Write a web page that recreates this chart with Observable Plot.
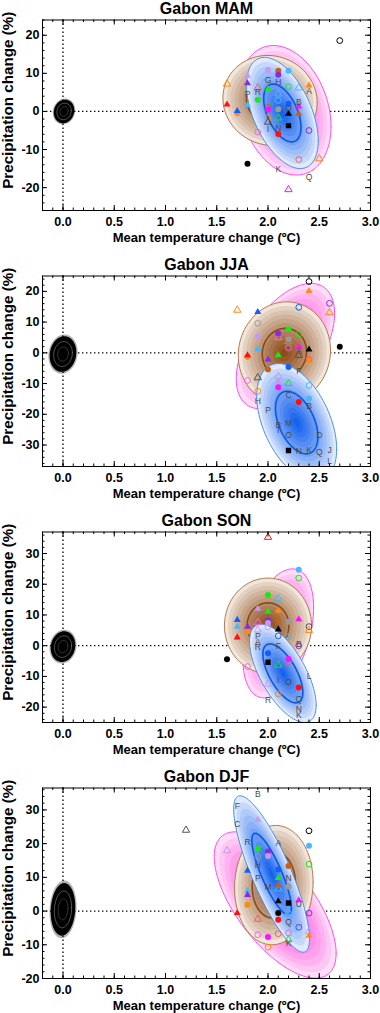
<!DOCTYPE html>
<html><head><meta charset="utf-8">
<script src="https://cdn.jsdelivr.net/npm/d3@7"></script>
<script src="https://cdn.jsdelivr.net/npm/@observablehq/plot@0.6"></script>
<style>body{margin:0;background:#fff}#c{width:380px}#c svg{display:block}</style>
</head><body><div id="c"></div>
<script>
// ---------- axes ----------
const xTicks = [0, 0.5, 1.0, 1.5, 2.0, 2.5, 3.0];
const xDomain = [-0.2, 3.0];
const titles = ["Gabon MAM", "Gabon JJA", "Gabon SON", "Gabon DJF"];
const yDomainMAM = [-26, 24], yTicksMAM = [-20, -10, 0, 10, 20];
const yDomainJJA = [-37, 25], yTicksJJA = [-30, -20, -10, 0, 10, 20];
const yDomainSON = [-25, 37], yTicksSON = [-20, -10, 0, 10, 20, 30];
const yDomainDJF = [-20, 36.5], yTicksDJF = [-20, -10, 0, 10, 20, 30];

// ---------- ellipses: [cx, cy, sx, sy, rho, innerLevel] ----------
const pinkMAM = [2.165, 0.3, 0.45, 17.0, -0.25, 0];
const brownMAM = [2.02, 2.9, 0.46, 11.8, -0.05, 0.5];
const blueMAM = [2.14, -0.4, 0.35, 14.6, -0.5, 0.52];
const pinkJJA = [2.17, 2.2, 0.48, 20.4, 0.52, 0];
const brownJJA = [2.16, 0.0, 0.45, 16.6, 0.05, 0.48];
const blueJJA = [2.28, -22.7, 0.39, 19.2, -0.45, 0.53];
const pinkSON = [2.1, 4.0, 0.345, 21.0, 0.4, 0];
const brownSON = [2.0, 6.5, 0.425, 15.5, 0.0, 0.48];
const blueSON = [2.145, -9.0, 0.325, 16.0, -0.65, 0.6];
const pinkDJF = [2.07, 1.8, 0.595, 21.7, -0.66, 0];
const brownDJF = [2.057, 7.7, 0.383, 17.7, 0.05, 0.55];
const blueDJF = [2.035, 11.0, 0.37, 23.2, -0.83, 0.52];
// natural variability cloud: [cx, cy, sx, sy]
const cloudMAM = [0.01, 0.0, 0.1, 3.1];
const cloudJJA = [0.0, -0.4, 0.13, 5.8];
const cloudSON = [0.0, -0.3, 0.12, 5.0];
const cloudDJF = [0.0, 0.5, 0.12, 7.8];

// ---------- model markers: [dT, dP, marker-code] ----------
const markersMAM = [
 [2.7,18.6,"oc-black"],[1.6,7.2,"ot-orange"],[1.6,1.8,"ft-red"],[1.7,-0.4,"fc-orange"],[1.7,0.1,"ft-blue"],
 [1.8,9.4,"ft-lav"],[1.8,7.4,"ft-purple"],[1.8,1.6,"ft-lblue"],[1.9,-5.4,"oc-pink"],[1.9,6.2,"ot-salmon"],
 [1.9,3.1,"fc-green"],[2.0,5.9,"ft-green"],[2.0,10.9,"fc-lav"],[2.0,1.1,"oc-brown"],[2.0,0.5,"fc-mag"],
 [2.0,-1.6,"oc-orange"],[2.0,-2.8,"ot-dgrey"],[2.1,10.7,"fc-brown"],[2.1,9.6,"fc-purple"],[2.1,4.6,"ot-lblue"],
 [2.1,2.9,"oc-lblue"],[2.1,0.6,"fc-grey"],[2.1,-1.7,"ot-green"],[2.1,-5.9,"fc-red"],[2.2,10.7,"fc-lblue"],
 [2.2,6.5,"oc-green"],[2.2,2.0,"fc-blue"],[2.2,-0.6,"ft-black"],[2.2,-3.7,"fs-black"],[2.3,6.2,"ot-lblue"],
 [2.3,1.3,"ft-mag"],[2.3,-0.6,"ft-brown"],[2.3,-12.6,"oc-salmon"],[2.4,6.8,"ft-orange"],[2.4,-5.0,"oc-purple"],
 [2.5,-12.4,"ot-orange"],[1.8,-13.7,"fc-black"],[2.2,-20.5,"ot-mag"]
];
const markersJJA = [
 [2.4,23.2,"oc-black"],[2.4,20.1,"ft-orange"],[2.6,16.1,"oc-purple"],[2.6,13.1,"ot-orange"],[2.3,14.8,"oc-blue"],
 [1.7,13.9,"ot-orange"],[1.9,13.3,"ft-blue"],[1.9,9.6,"oc-grey"],[1.9,5.4,"fc-lav"],[1.9,1.2,"ft-lblue"],
 [1.8,-1.3,"fc-orange"],[1.8,-0.8,"ft-red"],[2.0,-2.2,"ft-purple"],[2.0,-5.4,"fc-brown"],[2.1,6.3,"fc-purple"],
 [2.1,5.0,"ot-pink"],[2.1,-0.8,"ft-green"],[2.2,7.7,"fc-green"],[2.2,5.5,"ot-salmon"],[2.2,4.4,"fc-grey"],
 [2.2,3.6,"ot-grey"],[2.2,1.6,"oc-pink"],[2.3,6.0,"oc-green"],[2.3,2.0,"ft-mag"],[2.3,-0.8,"ot-dgrey"],
 [2.4,1.1,"ft-black"],[2.4,-2.1,"oc-salmon"],[2.4,-2.6,"ft-orange"],[2.7,2.0,"fc-black"],[2.2,-4.6,"fc-blue"],
 [1.8,-9.0,"oc-pink"],[1.9,-8.1,"ot-dgrey"],[1.9,-12.5,"oc-orange"],[2.1,-7.6,"ot-lav"],[2.1,-9.4,"ft-lav"],
 [2.1,-11.2,"fc-mag"],[2.2,-10.0,"ot-green"],[2.4,-10.6,"oc-lblue"],[2.4,-14.9,"fc-lblue"],[2.3,-16.0,"fc-red"],
 [2.2,-31.8,"fs-black"]
];
const markersSON = [
 [2.0,35.3,"ot-red"],[2.3,24.7,"fc-lblue"],[2.3,22.0,"oc-green"],[2.0,16.5,"fc-green"],[2.1,15.4,"ot-lblue"],
 [1.9,12.0,"ft-lav"],[2.0,11.1,"ft-green"],[2.1,11.4,"ft-orange"],[2.1,8.6,"ft-brown"],[2.2,7.8,"fc-grey"],
 [2.3,8.6,"ft-mag"],[1.7,8.4,"ft-blue"],[1.7,6.2,"ft-lblue"],[1.8,6.2,"ft-purple"],[1.8,4.6,"fc-orange"],
 [1.9,7.6,"ot-pink"],[1.9,5.1,"ot-lav"],[2.0,8.3,"fc-purple"],[2.0,7.4,"fc-lav"],[2.0,6.2,"oc-lav"],
 [2.1,5.3,"ft-black"],[2.1,3.2,"oc-blue"],[2.2,3.0,"oc-lblue"],[2.4,6.2,"oc-dgrey"],[2.4,5.0,"ot-orange"],
 [1.7,2.7,"ft-red"],[2.3,0.0,"oc-purple"],[1.6,-4.4,"fc-black"],[2.0,-2.5,"fc-blue"],[2.0,-5.4,"fs-black"],
 [2.1,-6.3,"ot-green"],[2.2,-4.3,"fc-mag"],[2.2,-5.4,"oc-salmon"],[1.8,-6.8,"oc-pink"],[2.3,-13.6,"fc-red"],
 [2.0,-12.5,"ot-lav"],[2.1,-15.7,"oc-orange"]
];
const markersDJF = [
 [1.9,27.1,"ft-lav"],[1.2,24.0,"ot-dgrey"],[2.4,23.8,"oc-black"],[2.4,19.4,"fc-lblue"],[2.4,13.9,"oc-green"],
 [1.6,17.9,"ot-lav"],[1.9,18.4,"fc-green"],[1.9,16.2,"oc-grey"],[2.0,17.7,"fc-purple"],[2.0,16.3,"fc-lav"],
 [1.8,12.0,"ft-blue"],[2.2,13.4,"fc-brown"],[2.1,12.3,"fc-blue"],[2.1,9.8,"ft-green"],[2.1,7.6,"ft-brown"],
 [2.1,6.6,"ot-lblue"],[2.2,7.3,"fc-grey"],[1.8,6.0,"ft-lblue"],[1.8,4.8,"ft-purple"],[1.8,1.9,"fc-orange"],
 [2.1,2.9,"ft-black"],[2.2,2.4,"fs-black"],[2.3,3.2,"ft-mag"],[1.7,-0.6,"ft-red"],[2.4,-0.6,"oc-purple"],
 [2.2,-0.4,"ot-lblue"],[2.1,-0.6,"fc-black"],[2.1,-2.6,"fc-red"],[1.9,-2.4,"ot-salmon"],[2.3,-3.8,"oc-lav"],
 [2.3,-4.8,"oc-blue"],[2.4,-6.0,"ot-lav"],[2.4,-7.3,"ft-orange"],[1.9,-7.0,"oc-pink"],[2.0,-7.7,"fc-mag"],
 [2.1,-6.7,"oc-salmon"],[2.2,-6.5,"oc-pink"],[2.2,-8.5,"ot-green"],[2.0,-10.7,"oc-orange"]
];
// ---------- lettered models: [dT, dP, letter] ----------
const lettersMAM = [[1.8,4.4,"P"],[1.9,5.0,"R"],[2.0,8.1,"G"],[2.1,7.6,"H"],[2.0,-4.8,"I"],[2.1,-4.5,"N"],
 [2.2,0.8,"O"],[2.3,2.4,"B"],[2.4,5.3,"A"],[2.1,-15.3,"K"],[2.4,-17.2,"Q"]];
const lettersJJA = [[2.3,-6.0,"F"],[1.9,-15.7,"H"],[2.2,-13.8,"C"],[2.4,-17.3,"B"],[2.0,-18.7,"P"],[2.2,-22.8,"M"],
 [2.1,-23.7,"B"],[2.1,-25.3,"I"],[2.2,-26.9,"O"],[2.5,-26.7,"D"],[2.3,-32.2,"N"],[2.4,-31.8,"K"],[2.5,-32.5,"Q"],
 [2.6,-31.8,"J"],[2.6,-35.4,"L"],[2.3,0.4,"A"]];
const lettersSON = [[1.9,3.2,"P"],[1.9,1.0,"A"],[1.9,-0.5,"R"],[2.3,0.3,"B"],[2.1,-0.1,"F"],[2.4,-9.9,"L"],
 [2.1,-11.4,"I"],[2.2,-12.0,"O"],[2.0,-17.9,"R"],[2.3,-17.5,"Q"],[2.3,-20.7,"N"],[2.3,-22.8,"K"]];
const lettersDJF = [[1.9,34.7,"B"],[1.7,31.1,"F"],[1.7,25.6,"C"],[1.8,20.4,"R"],[2.1,20.2,"A"],[1.9,13.6,"H"],
 [1.9,9.6,"P"],[2.2,9.8,"N"],[2.0,7.0,"M"],[2.3,2.0,"U"],[2.2,-3.3,"Q"],[2.2,-9.5,"K"]];

// ---------- styling ----------
const palette = {red:"#ff1010", orange:"#ff8a10", brown:"#c4621c", blue:"#1060ff", lblue:"#48b8ff",
 purple:"#8a2be2", lav:"#c29af0", mag:"#ff10ff", pink:"#ee66dd", green:"#18e818", grey:"#9a9a9a",
 black:"#000000", salmon:"#f06060", dgrey:"#505050"};
const FONT = "'Liberation Sans', Arial, Helvetica, sans-serif";

function ellipsePts(e, s) {
  const [cx, cy, sx, sy, rho] = e;
  const q = Math.sqrt(1 - rho * rho);
  return d3.range(0, 97).map(i => {
    const t = i / 96 * 2 * Math.PI;
    return {x: cx + s * sx * Math.cos(t), y: cy + s * sy * (rho * Math.cos(t) + q * Math.sin(t))};
  });
}
function ellipseMarks(e, outer, inner, edge, innerStroke) {
  const n = 12, marks = [];
  const col = d3.interpolateRgb(outer, inner);
  for (let k = 0; k < n; k++) {
    marks.push(Plot.line(ellipsePts(e, 1 - k / n), {x: "x", y: "y", fill: col(Math.pow(k / (n - 1), 0.85)), stroke: "none", clip: true}));
  }
  marks.push(Plot.line(ellipsePts(e, 1), {x: "x", y: "y", stroke: edge, strokeWidth: 1, clip: true}));
  if (e[5] > 0) marks.push(Plot.line(ellipsePts(e, e[5]), {x: "x", y: "y", stroke: innerStroke, strokeWidth: 1.6, clip: true}));
  return marks;
}
function cloudMarks(c) {
  const e = [c[0], c[1], c[2], c[3], 0.1];
  return [
    Plot.line(ellipsePts(e, 1.1), {x: "x", y: "y", fill: "#000", fillOpacity: 0.3, stroke: "none"}),
    Plot.line(ellipsePts(e, 1.0), {x: "x", y: "y", fill: "#000", stroke: "none"}),
    Plot.line(ellipsePts(e, 0.7), {x: "x", y: "y", stroke: "#fff", strokeWidth: 0.6, strokeOpacity: 0.55}),
    Plot.line(ellipsePts(e, 0.4), {x: "x", y: "y", stroke: "#fff", strokeWidth: 0.5, strokeOpacity: 0.4})
  ];
}
function markerMarks(data) {
  const kind = k => data.filter(d => d[2].startsWith(k));
  const colr = d => palette[d[2].split("-")[1]];
  const base = {x: d => d[0], y: d => d[1], clip: true};
  return [
    Plot.dot(kind("oc"), {...base, r: 2.9, fill: "none", stroke: colr, strokeWidth: 1}),
    Plot.dot(kind("ot"), {...base, symbol: "triangle", r: 2.7, fill: "none", stroke: colr, strokeWidth: 1}),
    Plot.dot(kind("fc"), {...base, r: 3.0, fill: colr, stroke: "none"}),
    Plot.dot(kind("ft"), {...base, symbol: "triangle", r: 2.6, fill: colr, stroke: "none"}),
    Plot.dot(kind("fs"), {...base, symbol: "square", r: 3.0, fill: colr, stroke: "none"})
  ];
}

function panel(title, yDomain, yTicks, pink, brown, blue, cloud, markers, letters, height) {
  const [x0, x1] = xDomain, [y0, y1] = yDomain;
  const ml = 42, mr = 10, mt = 19.5, mb = height - 210;
  const fw = 380 - ml - mr, fh = 210 - mt;
  const kx = (x1 - x0) / fw, ky = (y1 - y0) / fh;
  const xMinor = d3.range(-2, 31).map(i => i / 10);
  const yMinor = d3.range(Math.ceil(y0 / 2) * 2, y1 + 0.001, 2);
  const tick = {stroke: "#000", strokeWidth: 1};
  return Plot.plot({
    width: 380, height, marginLeft: ml, marginRight: mr, marginTop: mt, marginBottom: mb,
    x: {domain: xDomain}, y: {domain: yDomain},
    color: {type: "identity"},
    style: {fontFamily: FONT, fontWeight: "bold", fontSize: "12.5px", background: "#fff", color: "#000"},
    marks: [
      Plot.ruleX([0], {stroke: "#000", strokeWidth: 1.3, strokeDasharray: "1.4,2.6"}),
      Plot.ruleY([0], {stroke: "#000", strokeWidth: 1.3, strokeDasharray: "1.4,2.6"}),
      ...cloudMarks(cloud),
      ...ellipseMarks(pink, "#ffdcf7", "#ff2ad8", "#ff4ee6", null),
      ...ellipseMarks(brown, "#f0e6dc", "#8f4c1a", "#b27a4c", "#8a4a1a"),
      ...ellipseMarks(blue, "#e0eafc", "#1562ee", "#4a90f0", "#0a56e0"),
      ...markerMarks(markers),
      Plot.text(letters, {x: d => d[0], y: d => d[1], text: d => d[2], fontSize: 8.5, fontWeight: "normal", fill: "#4a4a4a", clip: true}),
      Plot.ruleX(xMinor, {...tick, y1: y0, y2: y0 + 2.5 * ky}),
      Plot.ruleX(xTicks, {...tick, y1: y0, y2: y0 + 5 * ky}),
      Plot.ruleX(xMinor, {...tick, y1: y1, y2: y1 - 2.5 * ky}),
      Plot.ruleX(xTicks, {...tick, y1: y1, y2: y1 - 5 * ky}),
      Plot.ruleY(yMinor, {...tick, x1: x0, x2: x0 + 2.5 * kx}),
      Plot.ruleY(yTicks, {...tick, x1: x0, x2: x0 + 5 * kx}),
      Plot.ruleY(yMinor, {...tick, x1: x1, x2: x1 - 2.5 * kx}),
      Plot.ruleY(yTicks, {...tick, x1: x1, x2: x1 - 5 * kx}),
      Plot.frame({stroke: "#000", strokeWidth: 1}),
      Plot.axisX(xTicks, {tickSize: 0, tickPadding: 6.5, tickFormat: d => d.toFixed(1), label: null, fontSize: 12.5, fontWeight: "bold"}),
      Plot.axisY(yTicks, {tickSize: 0, tickPadding: 3, tickFormat: d => String(d), label: null, fontSize: 12.5, fontWeight: "bold"}),
      Plot.text([title], {text: d => d, frameAnchor: "top", textAnchor: "middle", lineAnchor: "middle", dy: -11.5, fontSize: 16, fontWeight: "bold"}),
      Plot.text(["Mean temperature change (ºC)"], {text: d => d, frameAnchor: "bottom", textAnchor: "middle", lineAnchor: "middle", dy: 27, fontSize: 13, fontWeight: "bold"}),
      Plot.text(["Precipitation change (%)"], {text: d => d, frameAnchor: "left", textAnchor: "middle", lineAnchor: "middle", rotate: -90, dx: -34, dy: -15, fontSize: 15.2, fontWeight: "bold"})
    ]
  });
}

const c = document.getElementById("c");
c.append(panel(titles[0], yDomainMAM, yTicksMAM, pinkMAM, brownMAM, blueMAM, cloudMAM, markersMAM, lettersMAM, 256));
c.append(panel(titles[1], yDomainJJA, yTicksJJA, pinkJJA, brownJJA, blueJJA, cloudJJA, markersJJA, lettersJJA, 256));
c.append(panel(titles[2], yDomainSON, yTicksSON, pinkSON, brownSON, blueSON, cloudSON, markersSON, lettersSON, 256));
c.append(panel(titles[3], yDomainDJF, yTicksDJF, pinkDJF, brownDJF, blueDJF, cloudDJF, markersDJF, lettersDJF, 245));
</script></body></html>
